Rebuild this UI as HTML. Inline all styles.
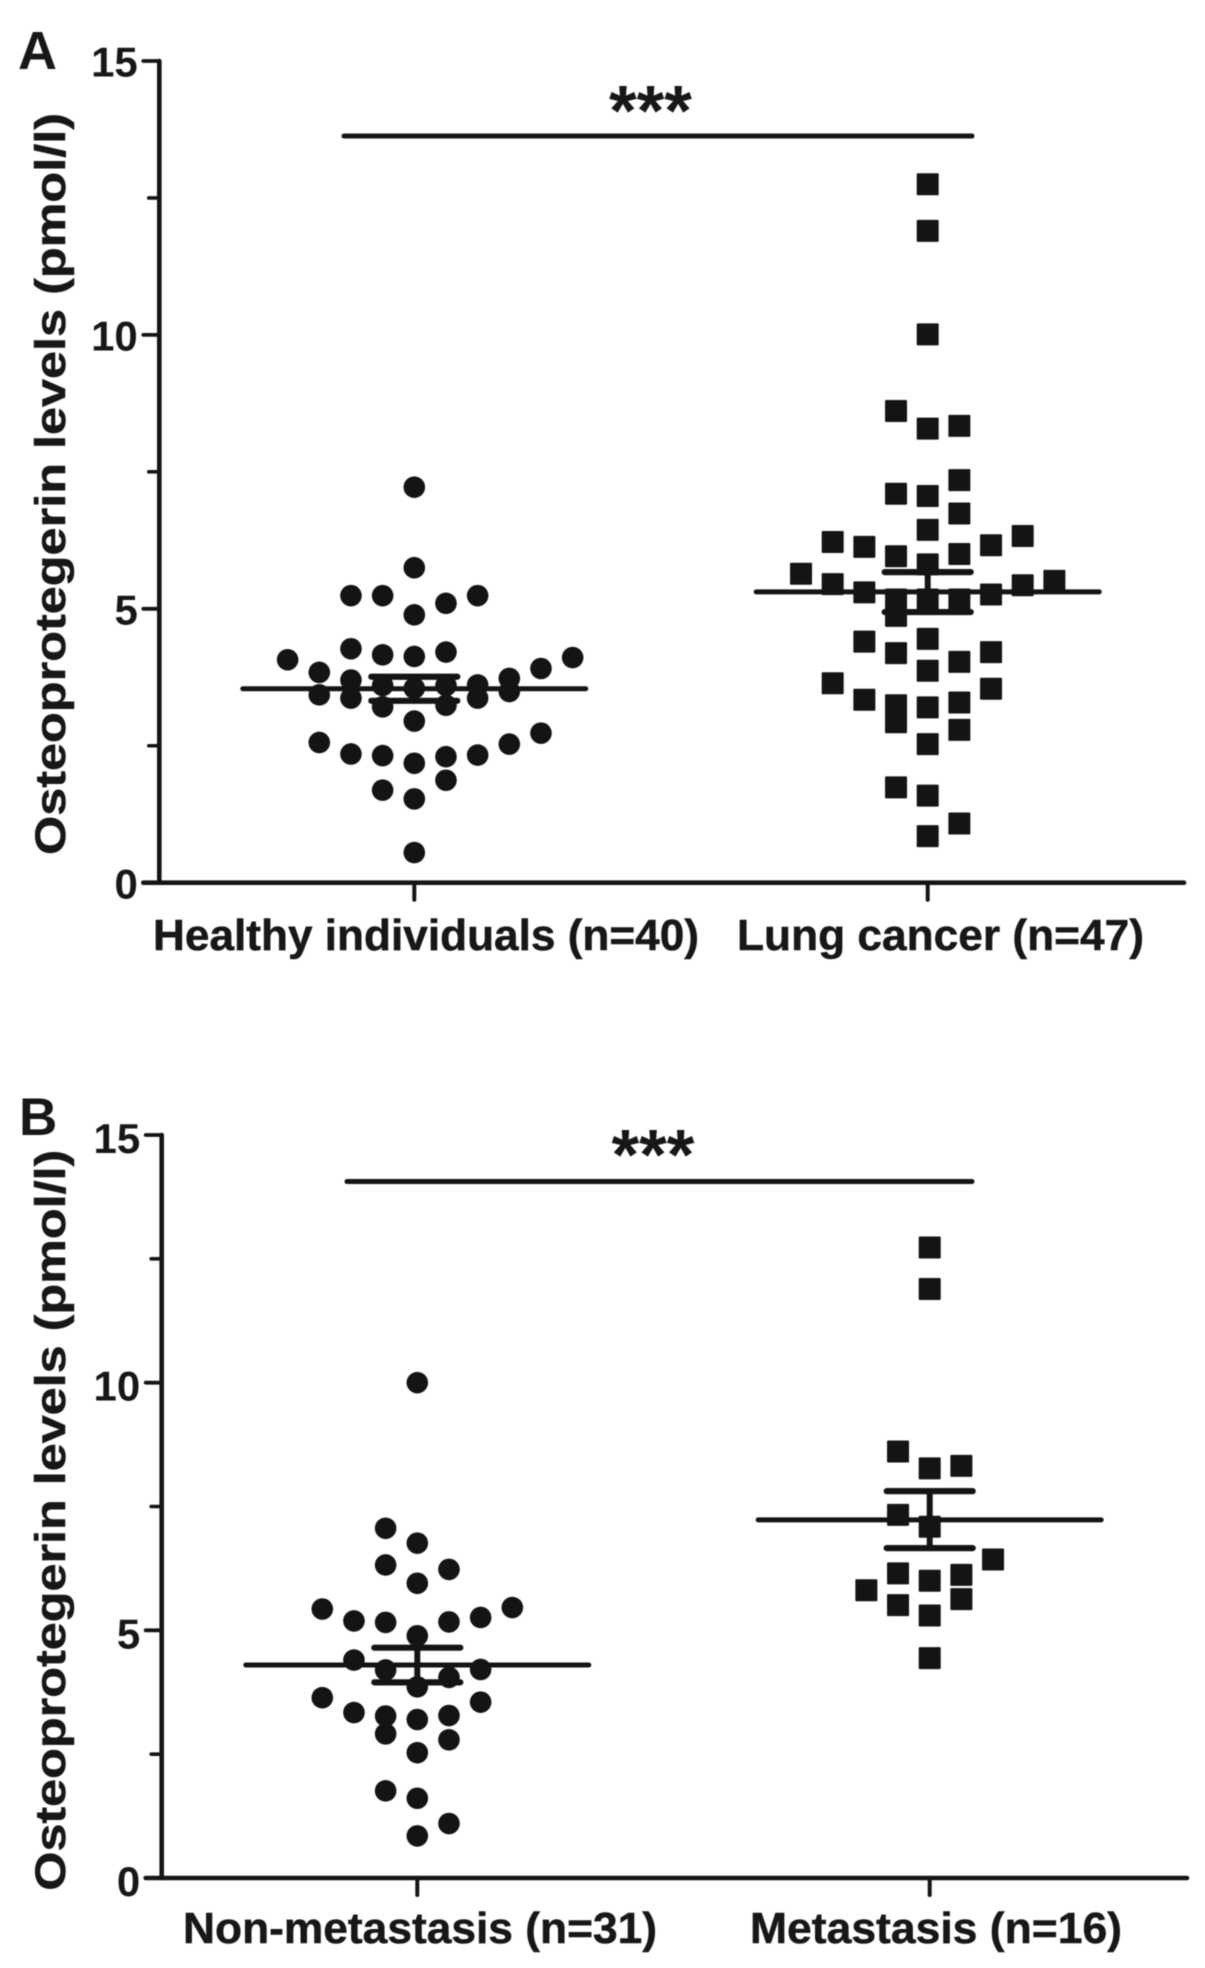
<!DOCTYPE html>
<html lang="en">
<head>
<meta charset="utf-8">
<title>Osteoprotegerin levels</title>
<style>
  html, body { margin: 0; padding: 0; background: #fff; }
  svg { display: block; filter: blur(0.6px); }
  text { font-family: "Liberation Sans", sans-serif; font-weight: bold; fill: #171717; }
  .heavy { stroke: #171717; stroke-width: 0.5px; }
</style>
</head>
<body>
<svg id="figure" xmlns="http://www.w3.org/2000/svg" width="1205" height="1968" viewBox="0 0 1205 1968">
  <rect x="0" y="0" width="1205" height="1968" fill="#fff"/>

  <g id="panel-a">
    <text x="18" y="69" font-size="54">A</text>
    <text class="heavy" transform="translate(65 855) rotate(-90)" font-size="43" textLength="742" lengthAdjust="spacingAndGlyphs">Osteoprotegerin levels (pmol/l)</text>
    <text class="heavy" x="153" y="950" font-size="44" textLength="546" lengthAdjust="spacingAndGlyphs">Healthy individuals (n=40)</text>
    <text class="heavy" x="737" y="950" font-size="44" textLength="407" lengthAdjust="spacingAndGlyphs">Lung cancer (n=47)</text>
    <text x="650.5" y="135" font-size="71" text-anchor="middle">***</text>
  </g>

  <g id="panel-b">
    <text x="19" y="1135" font-size="53">B</text>
    <text class="heavy" transform="translate(65 1890.7) rotate(-90)" font-size="43" textLength="741" lengthAdjust="spacingAndGlyphs">Osteoprotegerin levels (pmol/l)</text>
    <text class="heavy" x="183" y="1943" font-size="44" textLength="474" lengthAdjust="spacingAndGlyphs">Non-metastasis (n=31)</text>
    <text class="heavy" x="750" y="1943" font-size="44" textLength="372" lengthAdjust="spacingAndGlyphs">Metastasis (n=16)</text>
    <text x="653" y="1179" font-size="71" text-anchor="middle">***</text>
  </g>
</svg>

<script>
// ---- Chart data (pmol/l) ----
var majorTickValues = [0, 5, 10, 15];
var minorTickValues = [2.5, 7.5, 12.5];
var majorTickLabels = ['0', '5', '10', '15'];

// swarm column index of each point (whole columns left/right of the category centre)
var healthyColumns = [0,0,0,0,0,0,0,0,0, -1,-1,-1,-1,-1,-1, 1,1,1,1,1,1, -2,-2,-2,-2,-2, 2,2,2,2, -3,-3,-3, 3,3,3, 4,4, 5, -4];
var healthyValues  = [7.22,5.75,4.89,4.13,3.55,2.95,2.18,1.53,0.55, 5.24,4.16,3.60,3.21,2.32,1.69, 5.10,4.21,3.60,3.24,2.30,1.87, 5.24,4.27,3.70,3.37,2.35, 5.24,3.61,3.37,2.33, 3.84,3.43,2.56, 3.73,3.49,2.53, 3.91,2.73, 4.11, 4.07];

var lungColumns = [0,0,0,0,0,0,0,0,0,0,0,0,0,0, -1,-1,-1,-1,-1,-1,-1,-1,-1, 1,1,1,1,1,1,1,1,1, -2,-2,-2,-2, 2,2,2,2, -3,-3,-3, 3,3, -4, 4];
var lungValues  = [12.75,11.90,10.01,8.29,7.06,6.44,5.81,5.17,4.45,3.87,3.20,2.53,1.59,0.85, 8.61,7.10,5.96,5.17,4.87,4.19,3.24,2.93,1.74, 8.34,7.35,6.74,6.00,5.17,4.03,3.29,2.79,1.08, 6.13,5.30,4.40,3.34, 6.16,5.26,4.21,3.54, 6.22,5.45,3.64, 6.33,5.43, 5.64, 5.51];

var nonMetColumns = [0,0,0,0,0,0,0,0,0, -1,-1,-1,-1,-1,-1,-1, 1,1,1,1,1,1, -2,-2,-2, 2,2,2, -3,-3, 3];
var nonMetValues  = [10.00,6.76,5.95,4.89,3.86,3.20,2.53,1.61,0.85, 7.06,6.32,5.16,4.20,3.27,2.91,1.76, 6.23,5.17,4.05,3.28,2.79,1.10, 5.19,4.40,3.34, 5.26,4.21,3.55, 5.43,3.64, 5.46];

var metColumns = [0,0,0,0,0,0,0, -1,-1,-1,-1, 1,1,1, 2, -2];
var metValues  = [12.73,11.89,8.27,7.09,6.00,5.30,4.44, 8.61,7.33,6.15,5.51, 8.32,6.12,5.63, 6.43, 5.81];

// summary: mean, upper error, lower error for each group
var panelAMeans = [3.54, 5.31];
var panelAUpper = [3.76, 5.67];
var panelALower = [3.32, 4.94];
var panelBMeans = [4.30, 7.23];
var panelBUpper = [4.65, 7.81];
var panelBLower = [3.95, 6.66];

// height of the significance bar on the value axis
var panelASignificance = [13.63];
var panelBSignificance = [14.06];

// ---- Drawing ----
var SVG_NS = 'http://www.w3.org/2000/svg';
var INK = '#141414';

function shape(parent, tag, attrs) {
  var el = document.createElementNS(SVG_NS, tag);
  for (var k in attrs) { el.setAttribute(k, attrs[k]); }
  parent.appendChild(el);
  return el;
}

function line(parent, x1, y1, x2, y2, width) {
  return shape(parent, 'line', {
    x1: x1, y1: y1, x2: x2, y2: y2,
    stroke: INK, 'stroke-width': width, 'stroke-linecap': 'round'
  });
}

function drawPanel(opts) {
  var root = document.getElementById(opts.id);
  var yScale = function (v) { return opts.yZero - (v / 15) * (opts.yZero - opts.yTop); };
  var xScale = function (cat, column) { return opts.catX[cat] + column * 31.67; };
  var el, i, j;

  // markers first so that summary lines sit on top
  for (j = 0; j < opts.groups.length; j++) {
    var g = opts.groups[j];
    for (i = 0; i < g.values.length; i++) {
      var px = xScale(j, g.columns[i]);
      var py = yScale(g.values[i]);
      if (g.marker === 'circle') {
        el = shape(root, 'circle', { cx: px, cy: py, r: 10.8, fill: INK });
      } else {
        el = shape(root, 'rect', { x: px - 11, y: py - 11, width: 22, height: 22, rx: 1, fill: INK });
      }
      
      
    }
  }

  // mean and error bars
  for (j = 0; j < opts.groups.length; j++) {
    var name = opts.groups[j].name;
    var cx = xScale(j, 0);
    el = line(root, cx - 171.5, yScale(opts.means[j]), cx + 171.5, yScale(opts.means[j]), 5);
    
    
    el = line(root, cx, yScale(opts.upper[j]), cx, yScale(opts.lower[j]), 6);
    
    
    el = line(root, cx - 43, yScale(opts.upper[j]), cx + 43, yScale(opts.upper[j]), 6.2);
    
    
    el = line(root, cx - 43, yScale(opts.lower[j]), cx + 43, yScale(opts.lower[j]), 6.2);
    
    
  }

  // significance bar
  el = line(root, opts.sigFrom, yScale(opts.significance[0]), opts.sigTo, yScale(opts.significance[0]), 5);
  
  

  // axes
  el = line(root, opts.axisX, yScale(15), opts.axisX, yScale(0), 4.6);
  
  
  el = line(root, opts.axisX - 16, yScale(0), opts.xEnd, yScale(0), 4.6);
  
  

  for (i = 0; i < majorTickValues.length; i++) {
    var ty = yScale(majorTickValues[i]);
    el = line(root, opts.axisX - 16, ty, opts.axisX, ty, 3.8);
    
    
    el = shape(root, 'text', { x: opts.axisX - 21.5, y: ty + opts.labelDrop, 'font-size': 42, 'text-anchor': 'end' });
    el.textContent = majorTickLabels[i];
    
    
  }
  for (i = 0; i < minorTickValues.length; i++) {
    var my = yScale(minorTickValues[i]);
    el = line(root, opts.axisX - 10.5, my, opts.axisX, my, 3.6);
    
    
  }
  for (j = 0; j < opts.catX.length; j++) {
    el = line(root, xScale(j, 0), yScale(0), xScale(j, 0), yScale(0) + 17, 4);
    
    
  }
}

drawPanel({
  id: 'panel-a', yTop: 61, yZero: 882.7, axisX: 159.3, xEnd: 1184,
  catX: [414.3, 927.7], sigFrom: 344, sigTo: 972, labelDrop: 15.6,
  groups: [
    { name: 'healthy-individuals', marker: 'circle', values: healthyValues, columns: healthyColumns },
    { name: 'lung-cancer', marker: 'square', values: lungValues, columns: lungColumns }
  ],
  means: panelAMeans, upper: panelAUpper, lower: panelALower, significance: panelASignificance
});

drawPanel({
  id: 'panel-b', yTop: 1135, yZero: 1878, axisX: 161.7, xEnd: 1187,
  catX: [417.3, 929.7], sigFrom: 347, sigTo: 972, labelDrop: 18,
  groups: [
    { name: 'non-metastasis', marker: 'circle', values: nonMetValues, columns: nonMetColumns },
    { name: 'metastasis', marker: 'square', values: metValues, columns: metColumns }
  ],
  means: panelBMeans, upper: panelBUpper, lower: panelBLower, significance: panelBSignificance
});
</script>
</body>
</html>
